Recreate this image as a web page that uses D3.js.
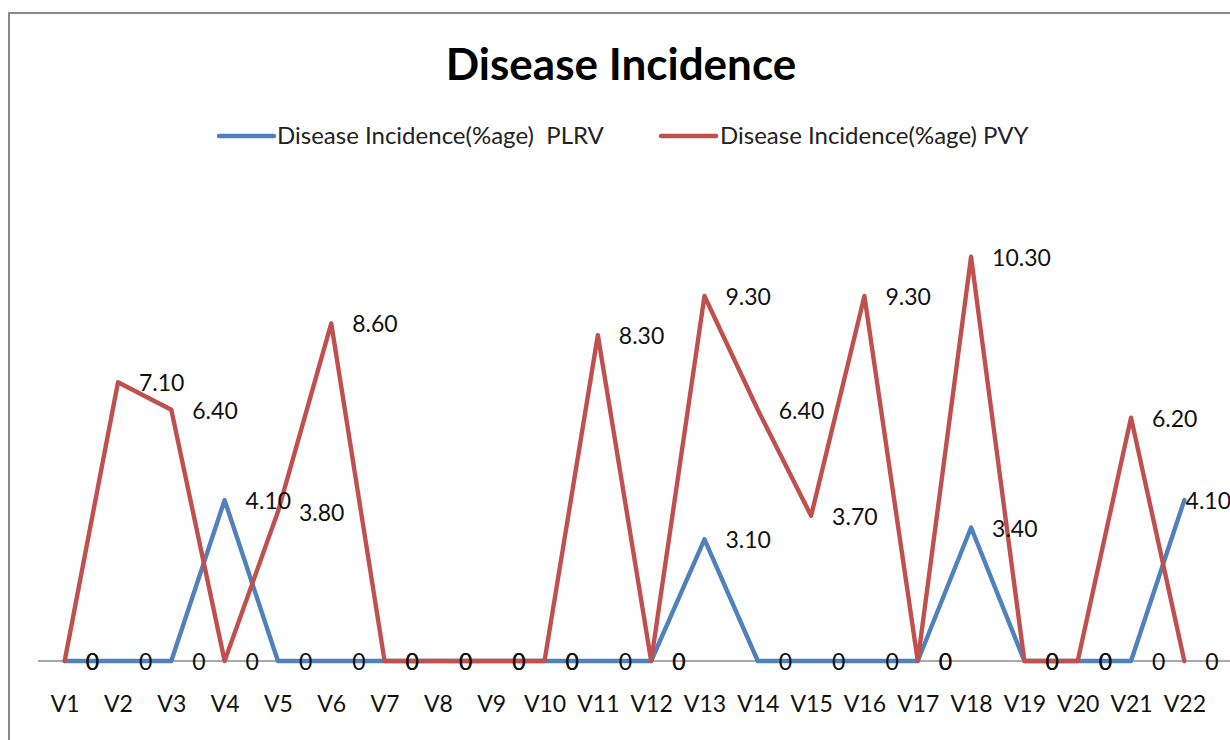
<!DOCTYPE html>
<html>
<head>
<meta charset="utf-8">
<script src="https://cdn.jsdelivr.net/npm/d3@7"></script>
<style>
  html, body { margin: 0; padding: 0; background: #ffffff; }
  svg { display: block; font-family: Lato, "Open Sans", sans-serif; }
</style>
</head>
<body>
<svg id="chart" width="1230" height="740"></svg>
<script>
// ---- data ----
const categories = ["V1","V2","V3","V4","V5","V6","V7","V8","V9","V10","V11",
                    "V12","V13","V14","V15","V16","V17","V18","V19","V20","V21","V22"];
const plrvValues = [0,0,0,4.1,0,0,0,0,0,0,0,0,3.1,0,0,0,0,3.4,0,0,0,4.1];
const pvyValues  = [0,7.1,6.4,0,3.8,8.6,0,0,0,0,8.3,0,9.3,6.4,3.7,9.3,0,10.3,0,0,6.2,0];
const seriesNames = ["Disease Incidence(%age)  PLRV", "Disease Incidence(%age) PVY"];
const chartTitle = "Disease Incidence";
const yDomain = [0, 12];

// ---- layout / style ----
const W = 1230, H = 740;
const colors = ["#4F81BD", "#C0504D"];
const svg = d3.select("#chart");

svg.append("rect").attr("x", 0).attr("y", 0).attr("width", W).attr("height", H).attr("fill", "#fff");
// chart frame (right/bottom edges fall outside the picture)
svg.append("rect").attr("x", 9).attr("y", 13).attr("width", W + 20).attr("height", H + 20)
  .attr("fill", "none").attr("stroke", "#8a8a8a").attr("stroke-width", 2);

const x = d3.scalePoint().domain(categories).range([38, 1211]).padding(0.5);
const y = d3.scaleLinear().domain(yDomain).range([661, 190]);

// title
svg.append("text").attr("x", 621).attr("y", 80).attr("text-anchor", "middle")
  .attr("font-size", 44).attr("font-weight", "bold").attr("fill", "#000")
  .text(chartTitle);

// legend
const legendPos = [{lx: 219, tx: 277}, {lx: 661, tx: 720}];
seriesNames.forEach((name, i) => {
  const g = svg.append("g");
  g.append("line").attr("x1", legendPos[i].lx).attr("x2", legendPos[i].lx + 55)
    .attr("y1", 136).attr("y2", 136).attr("stroke", colors[i])
    .attr("stroke-width", 4.5).attr("stroke-linecap", "round");
  g.append("text").attr("x", legendPos[i].tx).attr("y", 144)
    .attr("font-size", 24).attr("fill", "#222").style("white-space", "pre")
    .text(name);
});

// x axis (categories, no ticks)
const axis = d3.axisBottom(x).tickSize(0).tickSizeOuter(0);
const ag = svg.append("g").attr("transform", `translate(0,${y(0)})`).call(axis);
ag.select(".domain").remove();
ag.selectAll("text").attr("y", 51).attr("dy", 0)
  .attr("font-size", 23).attr("font-family", "Lato, sans-serif").attr("fill", "#111");
svg.append("line").attr("x1", x.range()[0]).attr("x2", W)
  .attr("y1", y(0)).attr("y2", y(0)).attr("stroke", "#8c8c8c").attr("stroke-width", 1.3);

// lines
const series = [plrvValues, pvyValues];
const lineGen = d3.line().x((d, i) => x(categories[i])).y(d => y(d));
series.forEach((vals, i) => {
  svg.append("path").datum(vals).attr("d", lineGen).attr("fill", "none")
    .attr("stroke", colors[i]).attr("stroke-width", 4.4)
    .attr("stroke-linejoin", "round").attr("stroke-linecap", "round");
});

// data labels (to the right of each point, kept inside the chart)
const fmt = v => v === 0 ? "0" : d3.format(".2f")(v);
series.forEach((vals, i) => {
  const g = svg.append("g");
  vals.forEach((v, j) => {
    const t = g.append("text").attr("y", y(v) + 9).attr("font-size", 23)
      .attr("fill", "#111").text(fmt(v));
    const w = t.node().getComputedTextLength();
    let lx = x(categories[j]) + 21;
    if (lx + w > W + 1) lx = W + 1 - w;
    t.attr("x", lx);
  });
});
</script>
</body>
</html>
